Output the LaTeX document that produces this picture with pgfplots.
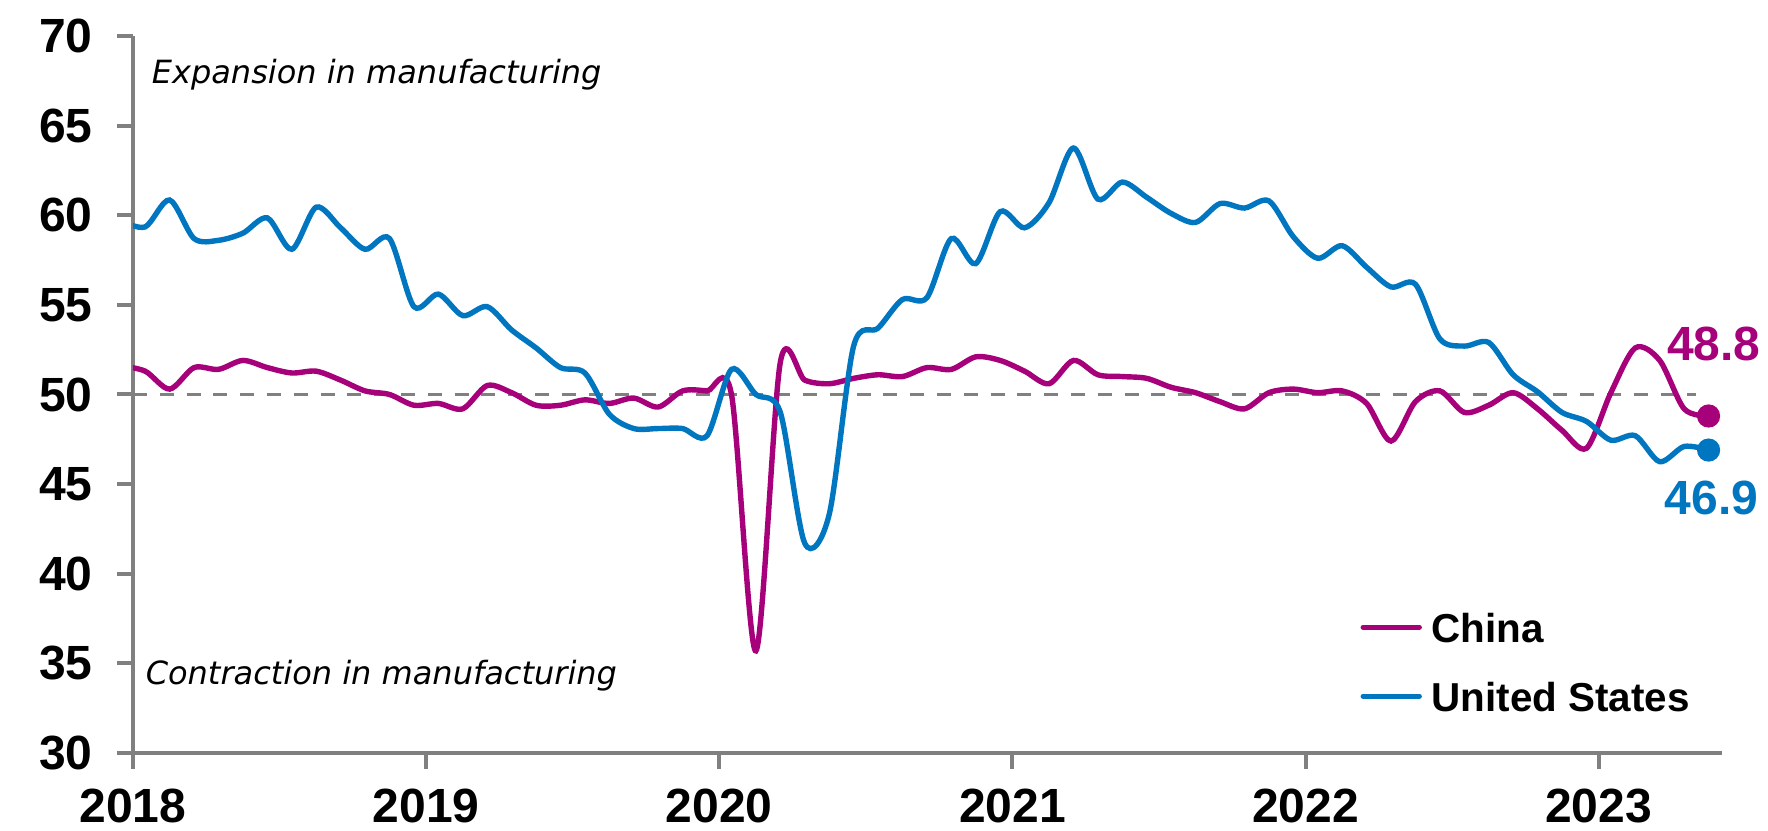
\documentclass[border=0pt]{standalone}
\usepackage{fontspec}
\setmainfont{Liberation Sans}
\newfontfamily\djv{DejaVu Sans}
\usepackage{pgfplots}
\pgfplotsset{compat=1.18}
\definecolor{chn}{HTML}{A6007A}
\definecolor{usa}{HTML}{0076C0}
\definecolor{axgray}{HTML}{808080}

\begin{document}
\begin{tikzpicture}
\begin{axis}[
 scale only axis, width=397.25pt, height=179.25pt,
 xmin=0, xmax=65.05, ymin=30, ymax=70,
 axis lines=left, axis line style={-, draw=axgray, line width=1.15pt},
 xtick={0,12,24,36,48,60}, xticklabels={2018,2019,2020,2021,2022,2023},
 ytick={30,35,40,45,50,55,60,65,70},
 tick align=outside, major tick length=4pt,
 tick style={draw=axgray, line width=1pt},
 /pgf/number format/assume math mode=true,
 ticklabel style={font=\fontsize{12}{14}\selectfont\bfseries},
 xticklabel style={yshift=-1.5pt},
 yticklabel style={xshift=-2.6pt},
 clip mode=individual,
 legend style={draw=none, fill=none, at={(rel axis cs:0.772,0.203)}, anchor=north west,
   inner sep=0pt, row sep=7.75pt, column sep=1.4pt,
   font=\fontsize{10.1}{12}\selectfont\bfseries,
   nodes={inner sep=1pt, text height=7.5pt, text depth=0pt, anchor=west}},
 legend cell align=left,
 legend image code/.code={\draw[#1, line cap=round] (0pt,0pt) -- (14pt,0pt);},
]
\coordinate (sw) at (rel axis cs:0,0);
\coordinate (ne) at (rel axis cs:1,1);

\addplot[forget plot, draw=axgray, line width=0.75pt, dash pattern=on 3.5pt off 3.2pt] coordinates {(0,50) (64,50)};

\addplot[chn, line width=1.35pt, smooth] coordinates {
(-0.5,51.6)
(0.5,51.3) (1.5,50.3) (2.5,51.5) (3.5,51.4) (4.5,51.9) (5.5,51.5) (6.5,51.2) (7.5,51.3) (8.5,50.8) (9.5,50.2) (10.5,50.0) (11.5,49.4)
(12.5,49.5) (13.5,49.2) (14.5,50.5) (15.5,50.1) (16.5,49.4) (17.5,49.4) (18.5,49.7) (19.5,49.5) (20.5,49.8) (21.5,49.3) (22.5,50.2) (23.5,50.2)
(24.5,50.0) (25.5,35.7) (26.5,51.8) (27.5,50.8) (28.5,50.6) (29.5,50.9) (30.5,51.1) (31.5,51.0) (32.5,51.5) (33.5,51.4) (34.5,52.1) (35.5,51.9)
(36.5,51.3) (37.5,50.6) (38.5,51.9) (39.5,51.1) (40.5,51.0) (41.5,50.9) (42.5,50.4) (43.5,50.1) (44.5,49.6) (45.5,49.2) (46.5,50.1) (47.5,50.3)
(48.5,50.1) (49.5,50.2) (50.5,49.5) (51.5,47.4) (52.5,49.6) (53.5,50.2) (54.5,49.0) (55.5,49.4) (56.5,50.1) (57.5,49.2) (58.5,48.0) (59.5,47.0)
(60.5,50.1) (61.5,52.6) (62.5,51.9) (63.5,49.2) (64.5,48.8)
};
\addlegendentry{China}

\addplot[usa, line width=1.35pt, smooth] coordinates {
(-0.5,59.7)
(0.5,59.35) (1.5,60.85) (2.5,58.7) (3.5,58.6) (4.5,59.0) (5.5,59.85) (6.5,58.1) (7.5,60.45) (8.5,59.3) (9.5,58.1) (10.5,58.7) (11.5,54.9)
(12.5,55.6) (13.5,54.4) (14.5,54.9) (15.5,53.6) (16.5,52.6) (17.5,51.5) (18.5,51.2) (19.5,48.9) (20.5,48.1) (21.5,48.1) (22.5,48.1) (23.5,47.7)
(24.5,51.4) (25.5,50.0) (26.5,49.0) (27.5,41.7) (28.5,43.3) (29.5,52.7) (30.5,53.7) (31.5,55.3) (32.5,55.4) (33.5,58.7) (34.5,57.3) (35.5,60.2)
(36.5,59.3) (37.5,60.7) (38.5,63.75) (39.5,60.9) (40.5,61.85) (41.5,61.0) (42.5,60.1) (43.5,59.6) (44.5,60.65) (45.5,60.4) (46.5,60.8) (47.5,58.8)
(48.5,57.6) (49.5,58.3) (50.5,57.1) (51.5,56.0) (52.5,56.15) (53.5,53.1) (54.5,52.7) (55.5,52.9) (56.5,51.1) (57.5,50.15) (58.5,49.0) (59.5,48.5)
(60.5,47.45) (61.5,47.7) (62.5,46.25) (63.5,47.1) (64.5,46.9)
};
\addlegendentry{United States}

\addplot[forget plot, only marks, mark=*, mark size=2.7pt, chn] coordinates {(64.5,48.8)};
\addplot[forget plot, only marks, mark=*, mark size=2.7pt, usa] coordinates {(64.5,46.9)};

\node[font=\fontsize{12}{14}\selectfont\bfseries, text=chn] at (axis cs:64.72,52.8) {48.8};
\node[font=\fontsize{12}{14}\selectfont\bfseries, text=usa] at (axis cs:64.62,44.2) {46.9};

\node[anchor=base west, inner sep=0pt, font=\djv\itshape\fontsize{8}{10}\selectfont] at (axis cs:0.74,67.34) {Expansion in manufacturing};
\node[anchor=base west, inner sep=0pt, font=\djv\itshape\fontsize{8}{10}\selectfont] at (axis cs:0.49,33.83) {Contraction in manufacturing};
\end{axis}
\pgfresetboundingbox
\path ([shift={(-33.25pt,-19.5pt)}]sw) rectangle ([shift={(11.5pt,9pt)}]ne);
\end{tikzpicture}
\end{document}
